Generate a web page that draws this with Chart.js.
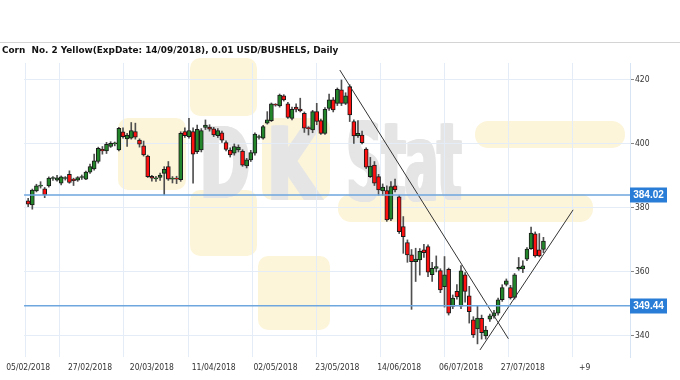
<!DOCTYPE html>
<html><head><meta charset="utf-8">
<script src="https://cdn.jsdelivr.net/npm/chart.js@4.4.1/dist/chart.umd.min.js"></script>
<style>
html,body{margin:0;padding:0;background:#fff;}
#wrap{position:relative;width:680px;height:380px;overflow:hidden;background:#fff;}
canvas{position:absolute;left:0;top:0;}
</style></head><body>
<div id="wrap"><canvas id="c" width="680" height="380"></canvas></div>
<script>
// ---- data ----
const titleText = 'Corn  No. 2 Yellow(ExpDate: 14/09/2018), 0.01 USD/BUSHELS, Daily';
const xTickIdx = [0,15,30,45,60,75,90,105,120,135];
const xTickText = ['05/02/2018','27/02/2018','20/03/2018','11/04/2018','02/05/2018','23/05/2018','14/06/2018','06/07/2018','27/07/2018','+9'];
const yTicks = [340,360,380,400,420];
const levels = [384.02, 349.44];
const openP  = [382.2,380.9,385.3,386.8,386.0,386.9,389.2,388.7,387.7,389.2,390.5,389.0,388.7,389.5,389.0,391.2,392.2,394.5,398.3,397.8,399.2,400.0,398.1,403.8,401.6,401.8,403.9,401.2,399.4,396.2,389.9,389.1,389.5,390.8,392.9,389.0,389.1,388.8,403.9,402.3,403.9,397.6,398.1,405.2,405.3,404.7,402.6,403.5,400.4,398.1,397.1,398.1,397.8,393.1,395.0,397.1,402.0,401.8,406.5,407.3,412.3,411.9,415.0,412.5,408.0,411.5,410.9,409.6,405.0,404.4,410.1,407.3,403.3,411.1,413.75,412.7,416.9,412.7,417.9,407.0,402.6,402.8,398.4,389.8,393.4,389.8,385.3,385.4,376.5,386.9,383.5,374.2,369.2,365.3,363.2,363.75,366.9,367.9,359.1,361.1,360.4,355.4,360.8,349.2,353.9,349.3,359.1,352.5,345.0,342.2,345.5,340.0,345.2,346.2,347.1,351.3,356.1,355.1,352.0,360.9,360.9,364.0,367.3,371.9,366.9,367.0];
const highP  = [383.0,385.9,387.4,388.2,386.4,389.7,389.8,390.2,390.0,389.8,391.6,389.3,389.8,390.3,391.5,393.7,396.8,399.0,399.2,400.5,400.7,400.6,405.2,405.0,403.3,406.7,406.5,401.6,400.9,396.5,390.2,389.9,390.9,392.9,394.5,389.8,389.9,403.8,405.0,408.0,405.0,405.9,404.8,407.5,406.0,405.2,404.8,404.0,401.0,398.8,400.0,399.7,398.2,395.5,398.0,403.5,402.8,405.8,410.1,412.8,412.6,415.6,415.4,413.0,411.5,412.5,414.3,410.0,405.4,410.5,412.7,407.8,411.4,415.6,414.5,417.5,420.0,416.0,418.5,407.5,407.3,404.0,398.8,395.8,394.5,390.5,387.5,386.9,388.2,389.0,384.0,377.3,370.0,367.0,367.4,367.3,368.6,368.5,363.0,365.0,361.0,364.8,361.2,352.8,356.0,362.0,359.8,355.5,346.0,349.5,346.5,343.0,346.8,348.0,351.8,356.0,357.8,355.8,359.5,364.5,363.5,367.6,374.0,372.5,372.0,370.8];
const lowP   = [380.4,379.6,385.0,386.2,383.2,386.5,388.6,388.4,387.2,388.7,387.7,387.0,388.3,388.9,388.8,390.8,391.8,394.0,396.8,397.0,398.9,399.4,397.8,401.8,399.2,401.5,401.5,399.0,396.2,389.5,388.4,388.3,388.6,384.1,388.6,387.8,387.6,388.3,402.0,401.8,387.7,397.0,397.5,404.5,404.0,402.3,402.0,400.5,397.8,395.9,396.5,397.5,393.0,392.5,394.5,396.5,401.5,401.5,406.2,407.0,411.8,411.5,413.4,408.0,407.5,410.0,410.0,403.6,402.8,403.5,406.0,403.0,403.0,410.5,410.0,412.0,412.0,412.3,407.0,400.2,402.0,400.0,392.3,389.5,387.0,384.0,384.0,375.8,376.0,385.0,372.0,365.8,363.0,348.3,357.0,359.0,364.5,358.5,357.0,360.0,353.5,349.0,346.5,348.5,351.5,348.5,350.5,344.0,339.5,337.5,339.0,339.0,344.5,345.5,346.5,350.8,355.6,351.5,351.5,360.5,359.8,363.5,367.0,364.6,364.7,366.0];
const closeP = [381.2,385.6,386.9,387.0,384.1,389.3,389.4,389.4,389.7,389.3,388.0,388.5,389.5,389.6,391.2,392.9,394.7,398.6,397.8,399.9,400.2,400.1,404.9,402.3,402.8,404.2,402.1,399.9,396.6,389.8,389.3,389.2,390.3,392.1,389.0,389.1,389.0,403.3,402.6,404.2,396.8,404.6,404.2,405.9,404.6,402.8,404.2,401.2,398.3,396.6,399.2,399.0,393.4,395.0,397.3,403.1,402.2,405.4,407.5,412.5,412.1,415.3,413.75,408.3,410.8,410.8,410.3,404.9,404.8,410.1,407.0,403.3,410.8,413.75,410.6,417.1,412.7,415.0,409.1,402.5,403.3,400.4,392.7,393.1,387.7,385.6,386.5,376.25,386.7,385.6,372.6,371.0,365.3,363.2,364.0,366.4,366.0,359.9,361.1,361.7,354.4,359.1,347.1,351.8,352.2,360.3,353.9,347.6,340.3,345.6,341.0,341.8,346.3,347.2,351.3,355.1,357.2,351.9,359.1,361.4,361.9,367.1,372.1,365.0,365.0,369.6];
const trendDownX = [75.6, 116.5], trendDownY = [423.1, 339.1];
const trendUpX   = [109.6, 132.2], trendUpY   = [335.6, 379.4];
const gridIdx = [-1, -0.15, 15.4, 31.0, 46.6, 62.1, 77.7, 93.2, 108.8, 124.3, 139.8];

// ---- build datasets ----
const bodies = openP.map((o,i)=>({x:i, y:[o, closeP[i]]}));
const wicks  = openP.map((o,i)=>({x:i, y:[lowP[i], highP[i]]}));
const bodyColors = openP.map((o,i)=> closeP[i] >= o ? '#23862a' : '#ff1010');
const seg = (xs, ys) => xs.map((x,k)=>({x, y:ys[k]}));
const XMIN=-1, XMAX=146;

const wmPlugin = {
  id:'wm',
  beforeDraw(chart){
    const c = chart.ctx;
    c.save();
    c.fillStyle = '#fdf5da';
    const rr = (x,y,w,h,r)=>{c.beginPath(); c.roundRect(x,y,w,h,r); c.fill();};
    rr(118,118,68,72,10);
    rr(190,58,67,58,10);
    rr(262,118,68,82,10);
    rr(190,190,67,66,10);
    rr(258,256,72,74,10);
    rr(475,121,150,27,13);
    rr(338,194,255,28,13);
    c.fillStyle = '#e5e5e5';
    c.textBaseline = 'alphabetic';
    c.font = 'bold 100px "DejaVu Sans"';
    const word = (t, x, base, w, h) => {
      const m = c.measureText(t).width;
      for (let dx = 0; dx <= 4; dx++) {
        c.save(); c.translate(x + dx, base); c.scale((w-4)/m, h/73); c.fillText(t, 0, 0); c.restore();
      }
    };
    word('D', 198, 198, 54, 72);
    word('K', 265, 200, 57, 74);
    word('Stat', 345, 200, 118, 80);
    c.restore();
  }
};
const overlayPlugin = {
  id:'overlay',
  afterDraw(chart){
    const c = chart.ctx, ys = chart.scales.y;
    c.save();
    c.fillStyle = '#d4d4d4';
    c.fillRect(0, 42, 680, 1);
    // title
    c.fillStyle = '#111';
    let fs = 11;
    c.font = 'bold '+fs+'px "DejaVu Sans"';
    const w = c.measureText(titleText).width;
    fs = fs*337/w;
    c.font = 'bold '+fs.toFixed(2)+'px "DejaVu Sans"';
    c.textBaseline = 'alphabetic';
    c.textAlign = 'left';
    c.fillText(titleText, 2, 53);
    // level labels
    levels.forEach(v=>{
      const y = ys.getPixelForValue(v);
      c.fillStyle = '#2a7dd6';
      c.fillRect(630, Math.round(y)-7.5, 37, 15);
      c.fillStyle = '#fff';
      c.font = 'bold 10px "Liberation Sans"';
      c.textAlign = 'center';
      c.textBaseline = 'middle';
      c.fillText(v.toFixed(2), 648.5, Math.round(y)+0.5);
    });
    c.restore();
  }
};

new Chart(document.getElementById('c'), {
  type:'bar',
  data:{datasets:[
    {type:'line', xAxisID:'x', data:seg([XMIN,XMAX],[levels[0],levels[0]]), borderColor:'#6ea6de', borderWidth:1.6, pointRadius:0, order:0},
    {type:'line', xAxisID:'x', data:seg([XMIN,XMAX],[levels[1],levels[1]]), borderColor:'#6ea6de', borderWidth:1.6, pointRadius:0, order:0},
    {type:'line', xAxisID:'x', data:seg(trendDownX,trendDownY), borderColor:'#333', borderWidth:1, pointRadius:0, order:0},
    {type:'line', xAxisID:'x', data:seg(trendUpX,trendUpY), borderColor:'#333', borderWidth:1, pointRadius:0, order:0},
    {xAxisID:'x', data:bodies, backgroundColor:bodyColors, borderColor:'#1a1a1a', borderWidth:1, barThickness:4, grouped:false, minBarLength:1, borderSkipped:false, order:1},
    {xAxisID:'x', data:wicks, backgroundColor:'#505050', barThickness:1, grouped:false, borderWidth:0, order:2}
  ]},
  options:{
    responsive:false, animation:false, devicePixelRatio:1,
    layout:{padding:{left:20, top:63, right:0, bottom:0}},
    plugins:{legend:{display:false}, tooltip:{enabled:false}, title:{display:false}},
    scales:{
      x:{type:'linear', min:XMIN, max:XMAX, offset:false, position:'bottom',
         grid:{display:false, tickLength:0, drawTicks:false}, border:{display:false},
         afterBuildTicks:s=>{s.ticks = xTickIdx.map(v=>({value:v}));},
         ticks:{autoSkip:false, maxRotation:0, color:'#333', padding:6,
                font:{family:'"DejaVu Sans Condensed"', size:8.5},
                callback:(v)=>{const k = xTickIdx.indexOf(v); return k>=0 ? xTickText[k] : '';}},
         afterFit:s=>{s.height = 23;}},
      xg:{type:'linear', min:XMIN, max:XMAX, offset:false, position:'top',
         grid:{color:'#e4edf7', drawTicks:false}, border:{display:false},
         ticks:{display:false},
         afterBuildTicks:s=>{s.ticks = gridIdx.map(v=>({value:v}));},
         afterFit:s=>{s.height = 0;}},
      y:{position:'right', min:333.4, max:425.3,
         grid:{color:'#e4edf7', tickColor:'#888', tickLength:4},
         border:{color:'#d6e4f3'},
         afterBuildTicks:s=>{s.ticks = yTicks.map(v=>({value:v}));},
         ticks:{color:'#333', padding:1, font:{family:'"DejaVu Sans Condensed"', size:8.5}},
         afterFit:s=>{s.width = 50;}}
    }
  },
  plugins:[wmPlugin, overlayPlugin]
});
</script>
</body></html>
